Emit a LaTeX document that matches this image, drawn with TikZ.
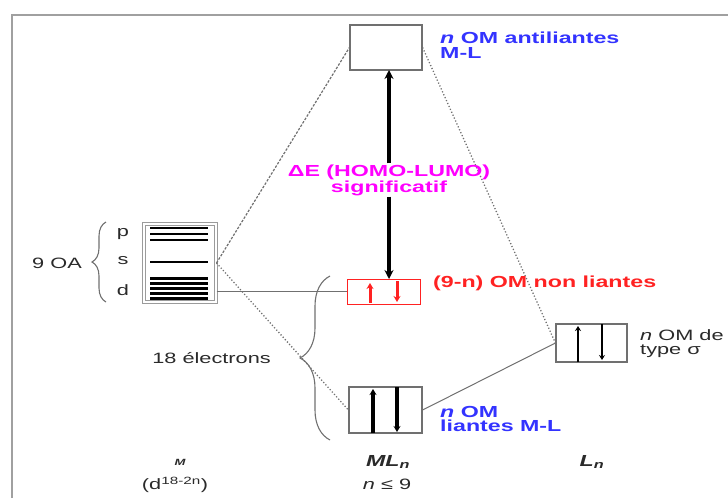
\documentclass[tikz,border=0pt]{standalone}
\usepackage{fontspec}
\setmainfont{Liberation Sans}[FakeStretch=1.45]
\usetikzlibrary{arrows.meta,decorations.pathreplacing}
\definecolor{obblue}{HTML}{3333FF}
\definecolor{obred}{HTML}{FF2222}
\definecolor{obmag}{HTML}{FF00FF}
\definecolor{framegray}{HTML}{A0A0A0}
\definecolor{boxgray}{HTML}{707070}
\definecolor{txt}{HTML}{2A2A2A}
\begin{document}
\begin{tikzpicture}[x=1pt,y=-1pt,
  lab/.style={font=\fontsize{15}{14}\selectfont, align=left, inner sep=0pt, text=txt},
  blab/.style={lab, font=\fontsize{16}{14.5}\selectfont\bfseries},
  ombox/.style={draw=boxgray, line width=1.2pt, fill=white, inner sep=0pt},
  elec/.style={line width=3.6pt, -{Stealth[length=6pt,width=7pt]}},
  thinel/.style={line width=2.8pt, -{Stealth[length=5pt,width=6pt]}},
  level/.style={line width=2.2pt, black},
  conn/.style={draw=boxgray, line width=1pt},
  dashconn/.style={conn, line width=1.2pt, dash pattern=on 2.5pt off 1.5pt},
  dotconn/.style={conn, line width=1.3pt, dash pattern=on 1.2pt off 2pt},
  bigarrow/.style={line width=4.2pt, -{Stealth[length=9pt,width=9pt]}},
  bracestyle/.style={draw=boxgray, line width=1.1pt, decorate}
]
\useasboundingbox (0,0) rectangle (728,498);
% frame
\draw[framegray, line width=2pt] (12,498) -- (12,15) -- (728,15);

% metal AO box
\node[draw=boxgray!70, line width=1pt, double=white, double distance=1.6pt, minimum width=72pt, minimum height=78pt, inner sep=0pt] (M) at (180,263) {};
\foreach \yy in {228,234,240} \draw[level] (150,\yy) -- (208,\yy);
\draw[level, line width=1.8pt] (150,262) -- (208,262);
\foreach \yy in {278.5,283.5,288.5,293.5,298.5} \draw[level] (150,\yy) -- (208,\yy);
\node[lab, anchor=center] (lp) at (123,234) {p};
\node[lab, anchor=center] (ls) at (123,261) {s};
\node[lab, anchor=center] (ld) at (123,290) {d};
\draw[bracestyle, decoration={brace, amplitude=14pt}] (106,302) -- (106,222);
\node[lab, anchor=east] (oa) at (82,263) {9 OA};

% MO boxes
\node[ombox, minimum width=72pt, minimum height=45pt] (top) at (386,47.5) {};
\node[ombox, draw=obred, line width=1pt, minimum width=73pt, minimum height=25pt] (nb) at (383.5,291.5) {};
\node[ombox, minimum width=73pt, minimum height=46pt] (bot) at (385.5,410) {};
\node[ombox, minimum width=71pt, minimum height=38pt] (lig) at (591.5,343) {};

% electrons
\draw[elec, obred, line width=3pt, -{Stealth[length=6pt,width=7pt]}] (370,303) -- (370,283);
\draw[elec, obred, line width=3pt, -{Stealth[length=6pt,width=7pt]}] (397,281) -- (397,302);
\draw[elec] (373,433) -- (373,389);
\draw[elec] (397,387) -- (397,432);
\draw[thinel] (578,362) -- (578,326);
\draw[thinel] (602,324) -- (602,360);

% connectors
\draw[dashconn] (M.east) -- (top.west);
\draw[dotconn] (M.east) -- (bot.west);
\draw[conn] (M.east |- nb.west) -- (nb.west);
\draw[dotconn] (top.east) -- (lig.west);
\draw[conn] (lig.west) -- (bot.east);

% HOMO-LUMO gap
\node[blab, text=obmag, align=center] (gap) at (389,180) {ΔE (HOMO-LUMO)\\significatif};
\coordinate (gtop) at (389,70);
\coordinate (gbot) at (389,279);
\draw[bigarrow] (gap.north) ++(0,-1) -- (gtop);
\draw[bigarrow] (gap.south) ++(0,1) -- (gbot);

% big brace
\draw[bracestyle, decoration={brace, amplitude=30pt}] (330,440) -- (330,276);
\node[lab, anchor=east] (el) at (271,358) {18 électrons};

% labels
\node[blab, text=obblue, anchor=west] (lanti) at (440,45) {\textit{n} OM antiliantes\\M-L};
\node[blab, text=obred, anchor=west] (lnon) at (433,283) {(9-n) OM non liantes};
\node[blab, text=obblue, anchor=west] (llia) at (440,419) {\textit{n} OM\\liantes M-L};
\node[lab, anchor=west] (lsig) at (640,344) {\textit{n} OM de\\type σ};

% bottom labels
\node[lab, font=\fontsize{9}{9}\selectfont\bfseries\itshape] (bM) at (180,462) {M};
\node[lab, anchor=center] (bM2) at (175,485) {(d\textsuperscript{18-2n})};
\node[lab, font=\fontsize{16}{14}\selectfont\bfseries\itshape] (bML) at (388,462) {ML\textsubscript{\itshape n}};
\node[lab, anchor=center] (bML2) at (387,484) {\textit{n} ≤ 9};
\node[lab, font=\fontsize{16}{14}\selectfont\bfseries\itshape] (bL) at (592,462) {L\textsubscript{\itshape n}};
\end{tikzpicture}
\end{document}
